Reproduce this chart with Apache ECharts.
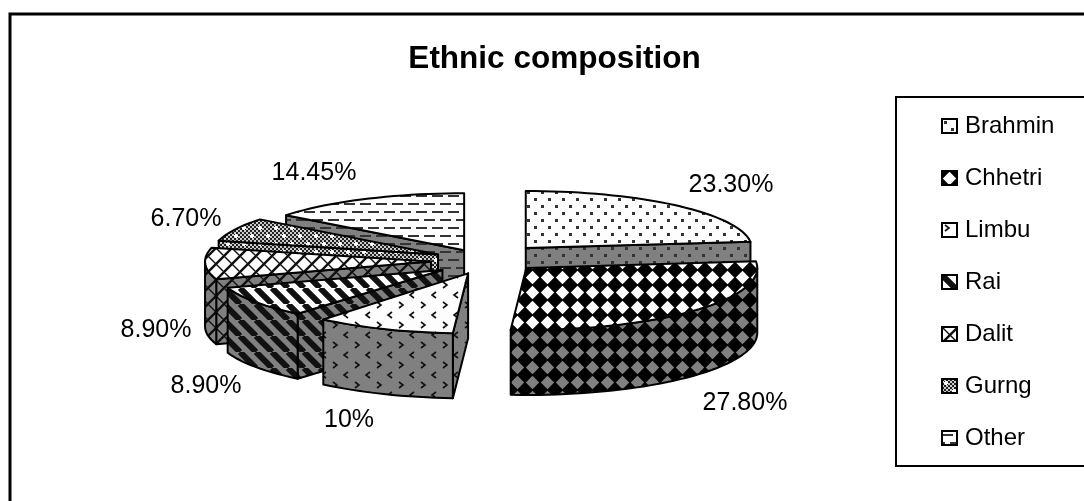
<!DOCTYPE html>
<html>
<head>
<meta charset="utf-8">
<style>html,body{margin:0;padding:0;background:#fff}#chart{width:1084px;height:501px}</style>
<script src="https://cdn.jsdelivr.net/npm/echarts@6/dist/echarts.min.js"></script>
</head>
<body>
<div id="chart"></div>
<script>
// data
const categories = ['Brahmin', 'Chhetri', 'Limbu', 'Rai', 'Dalit', 'Gurng', 'Other'];
const shares = [23.3, 27.8, 10, 8.9, 8.9, 6.7, 14.45];
const shareLabels = ['23.30%', '27.80%', '10%', '8.90%', '8.90%', '6.70%', '14.45%'];

// layout of the 3d pie
const FONT = '"Liberation Sans", Arial, sans-serif';
const centerX = 483, centerY = 260;
const depth = 65;
const radiusX = [226, 231, 226, 226, 226, 226, 226];
const radiusY = [57, 62, 60, 57, 57, 57, 57];          // front slices come out a bit bigger
const explode = [64, 60, 40, 49, 52, 50, 43];          // px along each slice's mid angle
const lift = [0, -2.5, 4, 3, 1, 0, 0];                 // small vertical correction
const drawOrder = [1, 2, 7, 6, 5, 4, 3];               // z per slice, back to front
const labelSpots = [[731, 185], [745, 403], [349, 420], [206, 386], [156, 330], [186, 219], [314, 173]];

// slice angles, clockwise from 12 o'clock
const total = shares.reduce((a, b) => a + b, 0);
const sliceAngles = [];
let run = 0;
shares.forEach(v => {
  const start = run / total * Math.PI * 2;
  run += v;
  sliceAngles.push([start, run / total * Math.PI * 2]);
});

// pattern tiles, ink is always black-ish, bg changes between top face and wall
function tile(w, h, bg, draw) {
  const c = document.createElement('canvas');
  c.width = w; c.height = h;
  const g = c.getContext('2d');
  g.fillStyle = bg;
  g.fillRect(0, 0, w, h);
  g.fillStyle = '#111';
  g.strokeStyle = '#111';
  draw(g, w, h);
  return { image: c, repeat: 'repeat' };
}
function diag(g, s, dir, lw) {
  g.lineWidth = lw;
  g.beginPath();
  for (let k = -1; k <= 1; k++) {
    if (dir > 0) { g.moveTo(k * s, 0); g.lineTo(k * s + s, s); }
    else { g.moveTo(k * s + s, 0); g.lineTo(k * s, s); }
  }
  g.stroke();
}
function chevron(g, x, y, d) {
  g.lineWidth = 1.6;
  g.beginPath();
  g.moveTo(x - d * 2, y - 3);
  g.lineTo(x + d * 2, y);
  g.lineTo(x - d * 2, y + 3);
  g.stroke();
}
const painters = [
  // Brahmin: staggered dots
  bg => tile(14, 14, bg, g => { g.fillStyle = '#333'; g.fillRect(2, 2, 3, 3); g.fillRect(9, 9, 3, 3); }),
  // Chhetri: diamonds, bg colour shows through the black
  bg => tile(15, 15, '#000', g => {
    g.fillStyle = bg;
    g.beginPath();
    g.moveTo(7.5, 0.8); g.lineTo(14.2, 7.5); g.lineTo(7.5, 14.2); g.lineTo(0.8, 7.5);
    g.closePath();
    g.fill();
  }),
  // Limbu: small chevrons
  bg => tile(22, 20, bg, g => { chevron(g, 5, 5, 1); chevron(g, 16, 15, -1); }),
  // Rai: thick diagonal stripes
  bg => tile(16, 16, bg, g => diag(g, 16, 1, 6)),
  // Dalit: diagonal plaid
  bg => tile(16, 16, bg, g => { diag(g, 16, -1, 2.4); diag(g, 16, 1, 1.4); }),
  // Gurng: fine check with white plus marks
  bg => tile(16, 16, '#777', g => {
    for (let y = 0; y < 16; y += 2) for (let x = 0; x < 16; x += 2) {
      g.fillStyle = (x + y) % 4 === 0 ? '#222' : '#ccc';
      g.fillRect(x, y, 2, 2);
    }
    g.fillStyle = '#fff';
    [[4, 4], [12, 12]].forEach(p => { g.fillRect(p[0] - 2, p[1] - 1, 4, 2); g.fillRect(p[0] - 1, p[1] - 2, 2, 4); });
  }),
  // Other: staggered dashes
  bg => tile(16, 16, bg, g => { g.fillStyle = '#333'; g.fillRect(0, 3, 11, 2); g.fillRect(8, 11, 8, 2); g.fillRect(0, 11, 3, 2); })
];
const topFills = painters.map(p => p('#fdfdfd'));
const wallFills = painters.map(p => p('#808080'));

function renderSlice(params) {
  const i = params.seriesIndex;
  const a0 = sliceAngles[i][0], a1 = sliceAngles[i][1];
  const mid = (a0 + a1) / 2;
  const rx = radiusX[i], ry = radiusY[i];
  const cx = centerX + explode[i] * Math.sin(mid);
  const cy = centerY - explode[i] * Math.cos(mid) * 57 / 226 + lift[i];
  const apex = [cx, cy];
  const rim = a => [cx + rx * Math.sin(a), cy - ry * Math.cos(a)];
  const down = p => [p[0], p[1] + depth];
  const arc = (from, to) => {
    const pts = [];
    const n = Math.max(2, Math.ceil((to - from) / 0.04));
    for (let k = 0; k <= n; k++) pts.push(rim(from + (to - from) * k / n));
    return pts;
  };
  const line = { stroke: '#000', lineWidth: 2, lineJoin: 'round' };
  const poly = (points, fill) => ({
    type: 'polygon',
    shape: { points: points },
    style: Object.assign({ fill: fill }, line)
  });
  const children = [];
  // cut faces, only the ones turned to the viewer
  [a0, a1].forEach((a, k) => {
    const seen = k === 0 ? Math.sin(a) < -1e-6 : Math.sin(a) > 1e-6;
    if (seen) {
      const p = rim(a);
      children.push(poly([apex, p, down(p), down(apex)], wallFills[i]));
    }
  });
  // outer wall on the front half
  const w0 = Math.max(a0, Math.PI / 2), w1 = Math.min(a1, Math.PI * 1.5);
  if (w1 > w0) {
    const edge = arc(w0, w1);
    children.push(poly(edge.concat(edge.map(down).reverse()), wallFills[i]));
  }
  children.push(poly([apex].concat(arc(a0, a1)), topFills[i]));
  return { type: 'group', children: children };
}

const chart = echarts.init(document.getElementById('chart'), null, { renderer: 'canvas' });
chart.setOption({
  animation: false,
  backgroundColor: '#fff',
  title: {
    text: 'Ethnic composition',
    left: 549.5,
    top: 38,
    textAlign: 'center',
    textStyle: { fontFamily: FONT, fontSize: 31.5, fontWeight: 'bold', color: '#000' }
  },
  legend: {
    orient: 'vertical',
    left: 941,
    top: 114,
    padding: 0,
    itemWidth: 15,
    itemHeight: 14,
    itemGap: 28,
    selectedMode: false,
    textStyle: { fontFamily: FONT, fontSize: 24, color: '#000', lineHeight: 20, padding: [0, 0, 0, 3] },
    data: categories.map((name, i) => ({
      name: name,
      icon: 'rect',
      itemStyle: { color: topFills[i], borderColor: '#000', borderWidth: 2 }
    }))
  },
  graphic: [
    { type: 'rect', z: -1, shape: { x: 10, y: 14, width: 1200, height: 600 }, style: { fill: 'none', stroke: '#000', lineWidth: 3 } },
    { type: 'rect', z: -1, shape: { x: 896, y: 97, width: 300, height: 369 }, style: { fill: '#fff', stroke: '#000', lineWidth: 2 } },
    ...shareLabels.map((t, i) => ({
      type: 'text',
      z: 20,
      x: labelSpots[i][0],
      y: labelSpots[i][1],
      style: { text: t, align: 'center', verticalAlign: 'middle', fontFamily: FONT, fontSize: 25, fill: '#000' }
    }))
  ],
  series: categories.map((name, i) => ({
    type: 'custom',
    name: name,
    coordinateSystem: 'none',
    z: drawOrder[i],
    silent: true,
    renderItem: renderSlice,
    data: [[shares[i]]]
  }))
});
</script>
</body>
</html>
